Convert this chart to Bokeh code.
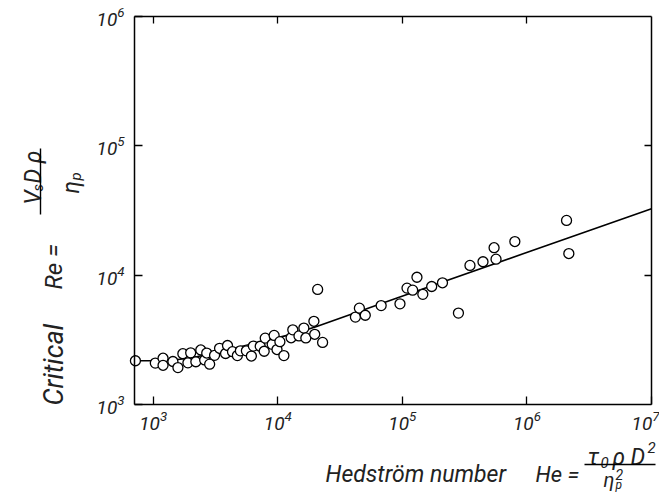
import math
from bokeh.plotting import figure
from bokeh.models import LogAxis, FixedTicker, Label, Range1d, Arrow, CustomJSTickFormatter
from bokeh.embed import file_html
from bokeh.resources import INLINE

# --- data (Hedström number vs critical Re) ---
he = [720, 1040, 1200, 1200, 1440, 1580, 1730, 1900, 2000, 2200,
      2410, 2590, 2690, 2840, 3110, 3410, 3810, 3950, 4330, 4740,
      5010, 5600, 6140, 6370, 7230, 7780, 7930, 9020, 9350, 9860,
      10400, 11200, 12800, 13200, 14800, 16200, 16800, 19500, 19800, 22900,
      20900, 42000, 45200, 50400, 67600, 95700, 109000, 131000, 121000, 146000,
      172000, 210000, 282000, 349000, 444000, 545000, 565000, 800000, 2080000, 2170000]
re = [2180, 2090, 2280, 2010, 2150, 1930, 2470, 2100, 2510, 2140,
      2640, 2210, 2500, 2050, 2400, 2720, 2480, 2860, 2560, 2390,
      2600, 2600, 2370, 2830, 2820, 2580, 3260, 2920, 3420, 2660,
      3060, 2390, 3280, 3780, 3390, 3900, 3270, 4400, 3490, 3020,
      7760, 4740, 5560, 4900, 5820, 6000, 7940, 9640, 7660, 7110,
      8170, 8730, 5090, 11900, 12700, 16300, 13300, 18200, 26500, 14700]

curve_he = [720, 1200, 1400, 2000, 3160, 6300, 12600, 20000, 90600, 1e7]
curve_re = [2180, 2180, 2200, 2290, 2510, 2950, 3470, 3980, 6670, 32600]

x_ticks = [1e3, 1e4, 1e5, 1e6, 1e7]
y_ticks = [1e3, 1e4, 1e5, 1e6]
x_side_ticks = [1e3, 1e4, 1e5, 1e6]
y_side_ticks = [1e4, 1e5]

# axis extents of the plotted box (decades)
HE_MIN, HE_MAX = 10 ** 2.85, 1e7
RE_MIN, RE_MAX = 1e3, 1e6

# canvas and where the box sits on it (pixels)
W, H = 659, 493
BOX_L, BOX_R, BOX_T, BOX_B = 134, 651, 16, 404

FONT = "Roboto"
INK = "#222222"

# extend the ranges so the plotting area fills the canvas and the box lands
# at the wanted pixels; the axes are then drawn at the box edges
lx0, lx1 = math.log10(HE_MIN), math.log10(HE_MAX)
ly0, ly1 = math.log10(RE_MIN), math.log10(RE_MAX)
kx = (BOX_R - BOX_L) / (lx1 - lx0)
ky = (BOX_B - BOX_T) / (ly1 - ly0)
x_range = Range1d(10 ** (lx0 - BOX_L / kx), 10 ** (lx1 + (W - BOX_R) / kx))
y_range = Range1d(10 ** (ly0 - (H - BOX_B) / ky), 10 ** (ly1 + BOX_T / ky))

p = figure(width=W, height=H, x_axis_type="log", y_axis_type="log",
           x_range=x_range, y_range=y_range,
           output_backend="svg", toolbar_location=None,
           min_border_left=0, min_border_right=0, min_border_top=0,
           min_border_bottom=0)
p.grid.visible = False
p.outline_line_color = None
p.background_fill_color = "white"
p.border_fill_color = "white"

bottom = p.xaxis[0]
left = p.yaxis[0]
bottom.ticker = FixedTicker(ticks=x_ticks)
left.ticker = FixedTicker(ticks=y_ticks)
bottom.fixed_location = RE_MIN
left.fixed_location = HE_MIN
bottom.bounds = (HE_MIN, HE_MAX)
left.bounds = (RE_MIN, RE_MAX)

for ax in (bottom, left):
    ax.major_tick_in = 8
    ax.major_tick_out = 0
    ax.minor_tick_line_color = None
    ax.axis_line_width = 1.5
    ax.major_tick_line_width = 1.3
    ax.major_label_text_font = FONT
    ax.major_label_text_font_style = "italic"
    ax.major_label_text_font_size = "19px"
    ax.major_label_text_color = INK
bottom.major_label_standoff = 6
left.major_label_standoff = 10

blank = CustomJSTickFormatter(code="return ''")
top = LogAxis(ticker=FixedTicker(ticks=x_side_ticks), formatter=blank,
              fixed_location=RE_MAX, bounds=(HE_MIN, HE_MAX))
right = LogAxis(ticker=FixedTicker(ticks=y_side_ticks), formatter=blank,
                fixed_location=HE_MAX, bounds=(RE_MIN, RE_MAX))
for ax in (top, right):
    ax.major_tick_in = 7
    ax.major_tick_out = 0
    ax.minor_tick_line_color = None
    ax.axis_line_width = 1.5
    ax.major_tick_line_width = 1.3
    ax.major_label_standoff = 0
p.add_layout(top, "above")
p.add_layout(right, "right")

p.line(curve_he, curve_re, line_color="black", line_width=1.6)
p.scatter(he, re, size=10, marker="circle", fill_color="white",
          line_color="black", line_width=1.3)

def lab(text, px, py, size=23, angle=0.0, align="left", baseline="alphabetic"):
    # px, py: pixels from the canvas top-left corner
    p.add_layout(Label(x=px, y=H - py, x_units="screen", y_units="screen",
                       text=text, text_font=FONT, text_font_style="italic",
                       text_font_size=f"{size}px", text_color=INK,
                       angle=angle, text_align=align, text_baseline=baseline))

def bar(px0, py0, px1, py1):
    p.add_layout(Arrow(x_start=px0, y_start=H - py0, x_end=px1, y_end=H - py1,
                       start_units="screen", end_units="screen",
                       start=None, end=None, line_color="black", line_width=1.4))

# x-axis title
lab("Hedström number", 325, 474)
lab("He =", 535, 474, size=22)
lab("τ", 587, 457)
lab("0", 600, 462, size=15)
lab("ρ", 612, 457)
lab("D", 630, 457)
lab("2", 647, 447, size=15)
bar(584, 464, 655, 464)
lab("η", 603, 479, size=20)
lab("2", 615, 474, size=14)
lab("p", 615, 484, size=12)

# y-axis title (rotated)
A = math.pi / 2
lab("Critical", 53, 405, size=27, angle=A)
lab("Re =", 53, 289, size=24, angle=A)
lab("V", 33, 204, angle=A)
lab("s", 37, 191, size=15, angle=A)
lab("D ρ", 33, 183, angle=A)
bar(40, 214, 40, 148)
lab("η", 71, 193, angle=A)
lab("p", 75, 180, size=15, angle=A)

open("out.html", "w").write(file_html(p, INLINE))
